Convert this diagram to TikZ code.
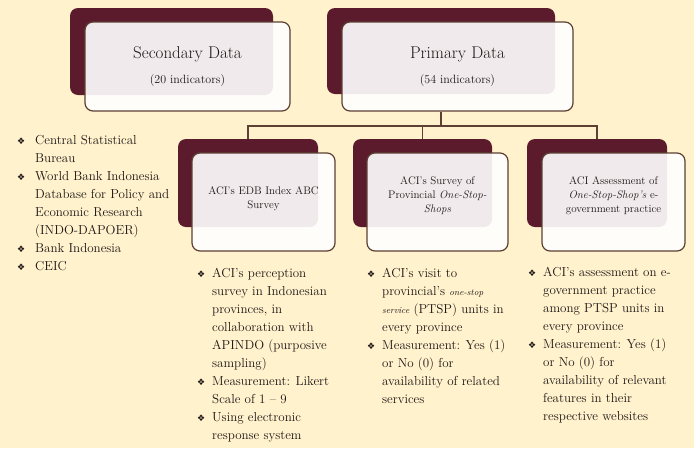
\documentclass[tikz,border=0pt]{standalone}
\usepackage{fontspec}
\newfontfamily\symfont{DejaVu Sans}
\definecolor{cream}{HTML}{FFF2CC}
\definecolor{maroon}{HTML}{5B1B2D}
\definecolor{linebrown}{HTML}{5C4033}
\definecolor{ink}{HTML}{1C1616}
% diamond bullet hanging left of the text, #1 = gap to the text
\newcommand\dbul[1]{\llap{{\symfont\fontsize{9}{9}\selectfont\color{ink}❖}\hspace{#1}}}
\begin{document}
\begin{tikzpicture}[x=1pt,y=-1pt,
  backbox/.style={fill=maroon, rounded corners=8pt, inner sep=0pt},
  frontbox/.style={draw=linebrown, line width=1.2pt, fill=white, fill opacity=0.91,
    text opacity=1, rounded corners=8pt, inner sep=0pt, text=ink, align=center},
  toptext/.style={font=\fontsize{12}{25}\selectfont},
  boxtext/.style={inner sep=0pt, align=center, text=ink, font=\fontsize{11}{14}\selectfont},
  conn/.style={draw=linebrown, line width=1.3pt},
  bullist/.style={inner sep=0pt, anchor=north west, align=left, text=ink,
    font=\fontsize{13}{18}\selectfont}]
\useasboundingbox[fill=cream] (0,0) rectangle (694,448);

% top level: data sources
\node[backbox, minimum width=203pt, minimum height=87pt] (secback) at (171.5,51.5) {};
\node[frontbox, toptext, minimum width=205pt, minimum height=89pt] (secfront) at (187.5,66.5)
  {{\fontsize{17}{25}\selectfont Secondary Data}\\(20 indicators)};
\node[backbox, minimum width=228pt, minimum height=86pt] (priback) at (441,51) {};
\node[frontbox, toptext, minimum width=231pt, minimum height=89pt] (prifront) at (457.5,66.5)
  {{\fontsize{17}{25}\selectfont Primary Data}\\(54 indicators)};

% second level: primary data instruments
\node[backbox, minimum width=140pt, minimum height=88pt] (edbback) at (248,183) {};
\node[frontbox, minimum width=143pt, minimum height=98pt] (edbfront) at (263.5,202) {};
\node[boxtext] (edbtext) at ([yshift=3pt]edbfront.center) {ACI’s EDB Index ABC\\Survey};

\node[backbox, minimum width=139pt, minimum height=88pt] (ossback) at (422.5,183) {};
\node[frontbox, minimum width=141pt, minimum height=98pt] (ossfront) at (437.5,202) {};
\node[boxtext] (osstext) at ([yshift=6pt]ossfront.center)
  {ACI’s Survey of\\Provincial \textit{One-Stop-}\\\textit{Shops}};

\node[backbox, minimum width=140pt, minimum height=88pt] (egovback) at (597,183) {};
\node[frontbox, minimum width=143pt, minimum height=98pt] (egovfront) at (613.5,202) {};
\node[boxtext] (egovtext) at ([yshift=6pt]egovfront.center)
  {ACI Assessment of\\\textit{One-Stop-Shop’s} e-\\government practice};

% tree connectors
\coordinate (bus) at (0,126);
\draw[conn] (priback.center |- prifront.south) -- (priback.center |- bus);
\draw[conn] (edbback.north) -- (edbback.north |- bus) -- (egovback.north |- bus) -- (egovback.north);
\draw[conn] (ossback.north) -- (ossback.north |- bus);

% bullet lists
\node[bullist] (seclist) at (35,135)
  {\dbul{10pt}Central Statistical\\Bureau\\
   \dbul{10pt}World Bank Indonesia\\Database for Policy and\\Economic Research\\(INDO-DAPOER)\\
   \dbul{10pt}Bank Indonesia\\
   \dbul{10pt}CEIC};
\node[bullist] (edblist) at (212,268)
  {\dbul{7pt}ACI’s perception\\survey in Indonesian\\provinces, in\\collaboration with\\APINDO (purposive\\sampling)\\
   \dbul{7pt}Measurement: Likert\\Scale of 1 – 9\\
   \dbul{7pt}Using electronic\\response system};
\node[bullist] (osslist) at (382,268)
  {\dbul{7pt}ACI’s visit to\\provincial’s {\small\textit{one-stop}}\\{\small\textit{service}} (PTSP) units in\\every province\\
   \dbul{7pt}Measurement: Yes (1)\\or No (0) for\\availability of related\\services};
\node[bullist] (egovlist) at (543,267)
  {\dbul{7pt}ACI’s assessment on e-\\government practice\\among PTSP units in\\every province\\
   \dbul{7pt}Measurement: Yes (1)\\or No (0) for\\availability of relevant\\features in their\\respective websites};
\end{tikzpicture}
\end{document}
